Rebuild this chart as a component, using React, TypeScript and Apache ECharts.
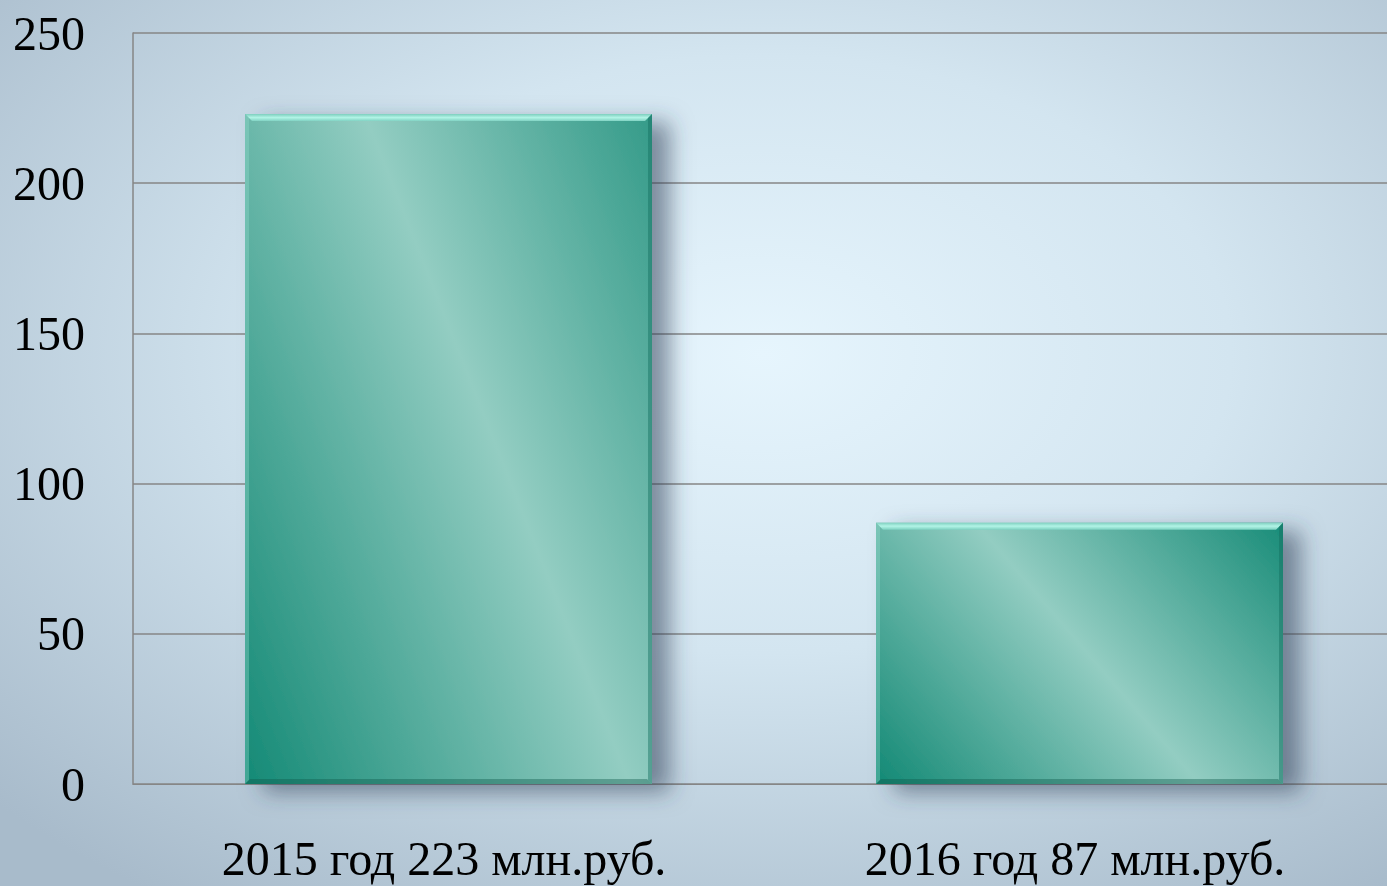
import React, { useEffect, useRef } from "react";
import * as echarts from "echarts";

const categories = ["2015 год 223 млн.руб.", "2016 год 87 млн.руб."];
const values = [223, 87];
const yTicks = { min: 0, max: 250, interval: 50 };

export default function App() {
  const ref = useRef<HTMLDivElement>(null);
  useEffect(() => {
    const chart = echarts.init(ref.current!, null, { renderer: "svg" });
    const dark = "#158a76";
    const light = "#93cdc2";
    const grads = [
      new echarts.graphic.LinearGradient(-0.04, 0.93, 1.28, 0.07, [
        { offset: 0, color: dark },
        { offset: 0.5, color: light },
        { offset: 1, color: dark },
      ]),
      new echarts.graphic.LinearGradient(-0.08, 0.83, 1.12, 0.17, [
        { offset: 0, color: dark },
        { offset: 0.5, color: light },
        { offset: 1, color: dark },
      ]),
    ];
    const font = "'Liberation Serif', 'Times New Roman', serif";
    chart.setOption({
      animation: false,
      backgroundColor: "transparent",
      grid: { left: 133, top: 33, width: 1262, height: 751, containLabel: false },
      xAxis: {
        type: "category",
        data: categories,
        axisLine: { show: true, lineStyle: { color: "#868686", width: 1 } },
        axisTick: { show: false },
        axisLabel: {
          color: "#000",
          fontFamily: font,
          fontSize: 48,
          margin: 50,
          padding: [0, 9, 0, 0],
        },
      },
      yAxis: {
        type: "value",
        min: yTicks.min,
        max: yTicks.max,
        interval: yTicks.interval,
        axisLine: { show: true, lineStyle: { color: "#868686", width: 1.5 } },
        axisTick: { show: false },
        axisLabel: { color: "#000", fontFamily: font, fontSize: 48, margin: 48 },
        splitLine: { lineStyle: { color: "#868686", width: 1.5 } },
      },
      series: [
        {
          type: "bar",
          data: values.map((v, i) => ({ value: v, itemStyle: { color: grads[i] } })),
          barWidth: "64.5%",
          itemStyle: {
            shadowColor: "rgba(50,65,85,0.55)",
            shadowBlur: 22,
            shadowOffsetX: 18,
            shadowOffsetY: 8,
          },
        },
        {
          type: "custom",
          data: values.map((v, i) => [i, v]),
          z: 5,
          renderItem: (params: any, api: any) => {
            const idx = api.value(0);
            const val = api.value(1);
            const top = api.coord([idx, val]);
            const base = api.coord([idx, 0]);
            const w = api.size([1, 0])[0] * 0.645;
            const x0 = top[0] - w / 2;
            const x1 = top[0] + w / 2;
            const y0 = top[1];
            const y1 = base[1];
            const b = 7;
            return {
              type: "group",
              children: [
                {
                  type: "polygon",
                  shape: { points: [[x0, y0], [x1, y0], [x1 - b, y0 + b], [x0 + b, y0 + b]] },
                  style: {
                    fill: new echarts.graphic.LinearGradient(0, 0, 0, 1, [
                      { offset: 0, color: "#7fcfbf" },
                      { offset: 0.5, color: "#b2f4e6" },
                      { offset: 1, color: "#7fd2c2" },
                    ]),
                  },
                },
                {
                  type: "polygon",
                  shape: { points: [[x1, y0], [x1, y1], [x1 - 4, y1 - 4], [x1 - 4, y0 + 4]] },
                  style: { fill: "rgba(20,110,95,0.45)" },
                },
                {
                  type: "polygon",
                  shape: { points: [[x0, y0], [x0 + 4, y0 + 4], [x0 + 4, y1 - 4], [x0, y1]] },
                  style: { fill: "rgba(150,220,205,0.35)" },
                },
                {
                  type: "polygon",
                  shape: { points: [[x0, y1], [x0 + 5, y1 - 5], [x1 - 5, y1 - 5], [x1, y1]] },
                  style: { fill: "rgba(15,90,75,0.4)" },
                },
              ],
            };
          },
        },
      ],
    });
    return () => chart.dispose();
  }, []);
  return (
    <div
      style={{
        position: "fixed",
        left: 0,
        top: 0,
        width: 1387,
        height: 886,
        overflow: "hidden",
        background:
          "radial-gradient(ellipse 75% 75% at 55% 40%, #e6f5fd 0%, #d3e5f0 45%, #a8bbcb 100%)",
      }}
    >
      <div ref={ref} style={{ width: 1400, height: 886 }} />
    </div>
  );
}
